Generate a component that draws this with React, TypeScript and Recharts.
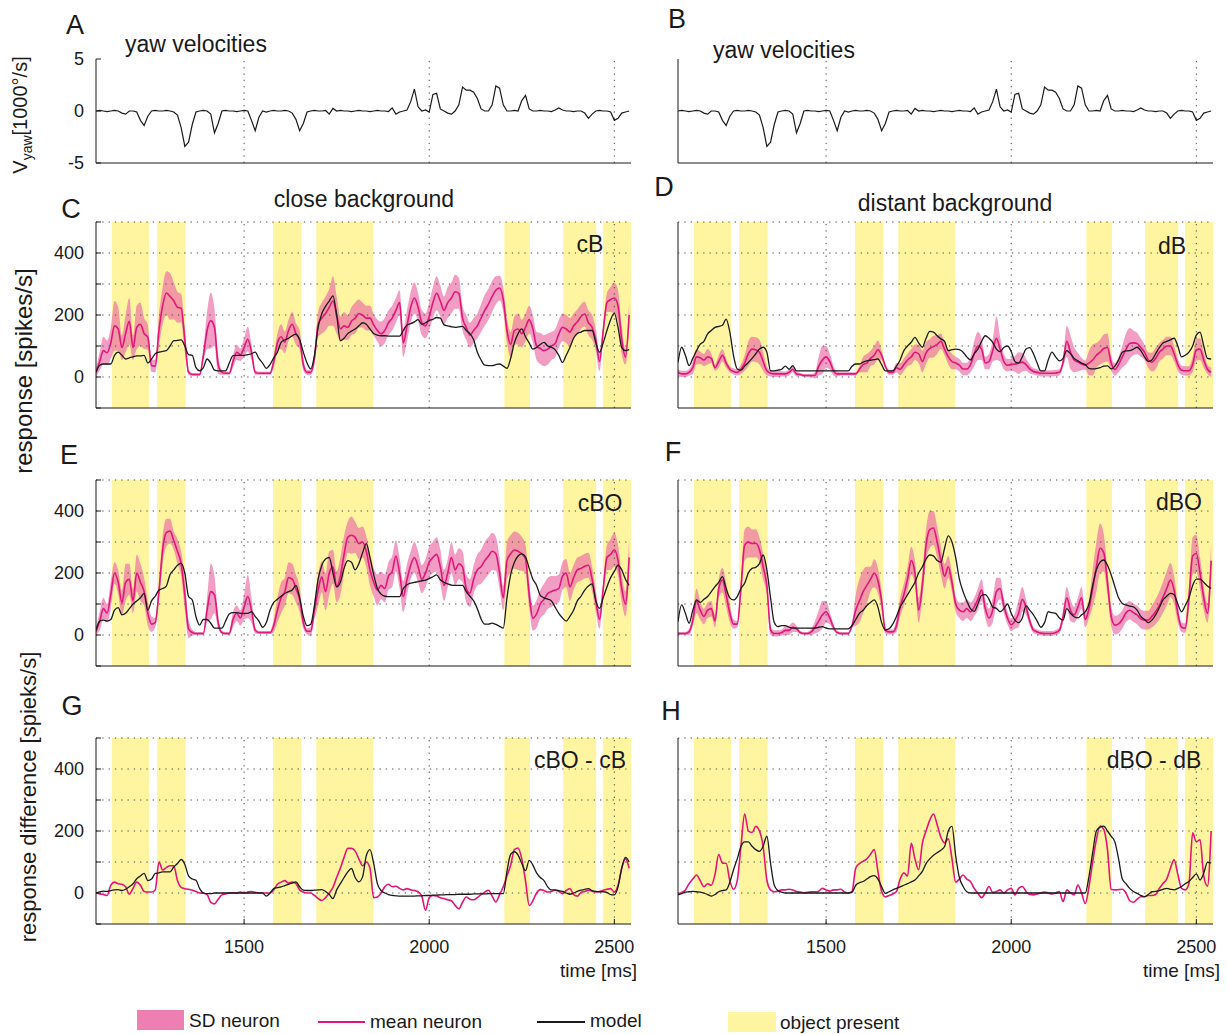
import React from "react";
import {
  ComposedChart,
  Area,
  Line,
  XAxis,
  YAxis,
  ReferenceArea,
  ReferenceLine,
} from "recharts";

const FONT = '"Liberation Sans", Arial, Helvetica, sans-serif';
const INK = "#1a1a1a";
const GRID = "#4a4a4a";
const PINK_LINE = "#e3157a";
const PINK_BAND = "#ea68a5";
const YELLOW = "#fff5a0";

// time base in ms, one sample every 10 ms
const time = [
  1100, 1110, 1120, 1130, 1140, 1150, 1160, 1170, 1180, 1190,
  1200, 1210, 1220, 1230, 1240, 1250, 1260, 1270, 1280, 1290,
  1300, 1310, 1320, 1330, 1340, 1350, 1360, 1370, 1380, 1390,
  1400, 1410, 1420, 1430, 1440, 1450, 1460, 1470, 1480, 1490,
  1500, 1510, 1520, 1530, 1540, 1550, 1560, 1570, 1580, 1590,
  1600, 1610, 1620, 1630, 1640, 1650, 1660, 1670, 1680, 1690,
  1700, 1710, 1720, 1730, 1740, 1750, 1760, 1770, 1780, 1790,
  1800, 1810, 1820, 1830, 1840, 1850, 1860, 1870, 1880, 1890,
  1900, 1910, 1920, 1930, 1940, 1950, 1960, 1970, 1980, 1990,
  2000, 2010, 2020, 2030, 2040, 2050, 2060, 2070, 2080, 2090,
  2100, 2110, 2120, 2130, 2140, 2150, 2160, 2170, 2180, 2190,
  2200, 2210, 2220, 2230, 2240, 2250, 2260, 2270, 2280, 2290,
  2300, 2310, 2320, 2330, 2340, 2350, 2360, 2370, 2380, 2390,
  2400, 2410, 2420, 2430, 2440, 2450, 2460, 2470, 2480, 2490,
  2500, 2510, 2520, 2530, 2540,
];
const timeTicks = [1500, 2000, 2500];
const timeDomain: [number, number] = [1100, 2545];

// periods in which the object is visible (ms)
const objectOn = [1143, 1265, 1578, 1695, 2203, 2362, 2469];
const objectOff = [1243, 1342, 1655, 1849, 2272, 2451, 2545];

const yawTicks = [-5, 0, 5];
const respTicks = [-100, 0, 100, 200, 300, 400, 500];
const respGrid = [0, 100, 200, 300, 400, 500];
const respLabels = [0, 200, 400];

// yaw velocity [1000 deg/s]
const yaw = [
  0, 0.05, 0, -0.05, 0, 0.05, 0, -0.2, -0.3, 0,
  0, -0.1, -0.9, -1.4, -0.5, 0, 0.05, 0, 0, 0.05,
  0, -0.1, -0.4, -1.6, -3.4, -3.0, -1.3, -0.1, 0, 0.05,
  0, -0.3, -2.1, -1.2, 0, 0.05, 0, 0, -0.05, 0,
  0.05, 0, -0.9, -1.9, -0.6, 0, -0.1, 0, 0.05, 0,
  0, 0.05, 0, -0.2, -0.8, -1.9, -1.2, -0.1, 0, 0.05,
  0, 0, 0.05, -0.3, 0.25, 0, 0.05, 0, 0, -0.05,
  0, 0.05, 0, 0, -0.05, 0, 0.05, 0, 0, -0.05,
  0.3, -0.3, -0.1, 0, 0.1, 0.9, 2.1, 0.4, 0, 0.1,
  -0.1, 1.6, 1.7, 0.2, 0, -0.2, -0.3, 0, 0.6, 2.3,
  2.0, 2.0, 1.8, 1.2, 0.2, 0, 0, 0.6, 2.4, 2.2,
  0.6, 0, 0, 0.05, 0, 1.0, 1.5, 0.2, 0, 0,
  0.05, 0, 0, -0.05, 0.1, 0.3, 0.1, 0, 0, -0.05,
  0, 0, -0.2, -0.7, -0.3, 0, 0.05, 0, 0, -0.1,
  -0.9, -0.7, -0.2, -0.1, 0,
];

// close background (cB)
const cbMean = [
  15, 50, 85, 78, 110, 165, 155, 95, 140, 180,
  95, 160, 170, 140, 128, 37, 35, 150, 230, 271,
  260, 246, 225, 222, 120, 15, 8, 8, 8, 70,
  150, 182, 160, 40, 15, 12, 12, 50, 80, 72,
  95, 122, 80, 15, 12, 12, 12, 12, 50, 110,
  130, 112, 150, 170, 139, 120, 40, 15, 15, 60,
  170, 190, 205, 225, 245, 200, 155, 165, 160, 180,
  190, 205, 200, 190, 190, 168, 150, 139, 150, 175,
  190, 215, 240, 110, 165, 225, 255, 225, 175, 165,
  195, 240, 270, 245, 215, 240, 255, 275, 270, 190,
  160, 135, 150, 165, 190, 215, 235, 260, 280, 287,
  250, 150, 105, 150, 155, 140, 160, 185, 155, 100,
  92, 85, 90, 100, 108, 139, 160, 155, 145, 165,
  178, 195, 203, 175, 160, 120, 50, 150, 240, 250,
  255, 230, 120, 65, 200,
];
const cbSd = [
  15, 30, 45, 40, 50, 80, 70, 40, 60, 75,
  40, 70, 70, 50, 40, 20, 20, 50, 60, 70,
  75, 60, 50, 45, 40, 8, 5, 5, 5, 20,
  60, 90, 60, 30, 8, 5, 5, 20, 25, 20,
  30, 40, 25, 8, 5, 5, 5, 5, 20, 30,
  40, 35, 35, 40, 35, 30, 20, 8, 8, 20,
  40, 50, 55, 60, 80, 60, 40, 45, 40, 45,
  50, 45, 40, 40, 40, 35, 35, 40, 40, 40,
  40, 40, 40, 45, 50, 50, 50, 45, 40, 40,
  45, 50, 55, 50, 45, 50, 50, 55, 50, 40,
  40, 40, 40, 40, 45, 50, 50, 50, 45, 40,
  40, 40, 40, 45, 50, 45, 45, 45, 45, 45,
  50, 50, 50, 45, 45, 45, 45, 45, 45, 40,
  40, 40, 40, 40, 40, 35, 30, 20, 30, 40,
  50, 50, 45, 25, 45,
];
const cbModel = [
  15, 38, 42, 42, 42, 70, 80, 70, 58, 62,
  65, 68, 68, 70, 45, 58, 75, 80, 83, 85,
  100, 117, 118, 120, 100, 72, 70, 30, 20, 30,
  58, 45, 22, 20, 20, 20, 45, 69, 70, 70,
  70, 72, 75, 80, 60, 45, 28, 40, 62, 80,
  112, 120, 125, 133, 138, 120, 80, 45, 26, 70,
  160, 205, 228, 245, 262, 200, 117, 125, 140, 148,
  155, 165, 175, 170, 155, 140, 135, 133, 133, 132,
  132, 132, 132, 150, 168, 172, 178, 185, 170, 175,
  182, 186, 192, 190, 168, 165, 162, 160, 162, 163,
  150, 140, 120, 80, 55, 38, 37, 37, 40, 42,
  35, 28, 60, 110, 140, 155, 130, 110, 90, 95,
  105, 112, 100, 96, 88, 70, 47, 70, 95, 125,
  140, 145, 150, 150, 150, 110, 80, 110, 150, 185,
  205, 160, 95, 85, 88,
];

// distant background (dB)
const dbMean = [
  15, 10, 10, 15, 30, 65, 62, 55, 65, 60,
  30, 50, 70, 45, 25, 18, 15, 25, 45, 75,
  90, 88, 80, 50, 20, 12, 10, 10, 10, 10,
  15, 25, 10, 8, 5, 5, 5, 5, 35, 55,
  65, 50, 20, 10, 10, 10, 10, 10, 10, 25,
  40, 45, 60, 70, 88, 70, 35, 15, 15, 30,
  25, 40, 55, 65, 80, 75, 50, 78, 92, 98,
  105, 115, 90, 65, 50, 45, 38, 26, 26, 40,
  75, 100, 90, 45, 50, 85, 125, 90, 50, 38,
  40, 42, 45, 48, 40, 26, 18, 15, 12, 12,
  12, 12, 13, 15, 47, 115, 80, 55, 48, 42,
  38, 45, 55, 70, 80, 92, 95, 45, 24, 40,
  65, 90, 108, 110, 108, 95, 80, 55, 48, 60,
  80, 90, 100, 100, 75, 40, 22, 20, 20, 40,
  88, 90, 55, 25, 15,
];
const dbSd = [
  10, 10, 10, 10, 20, 25, 20, 20, 25, 15,
  10, 20, 20, 15, 10, 10, 10, 15, 25, 40,
  40, 40, 40, 30, 15, 10, 10, 10, 8, 8,
  10, 10, 8, 5, 5, 5, 5, 10, 30, 45,
  35, 25, 15, 8, 5, 5, 5, 5, 5, 10,
  25, 30, 25, 30, 30, 15, 8, 8, 8, 15,
  20, 20, 20, 25, 25, 30, 35, 35, 30, 35,
  30, 25, 20, 25, 25, 20, 20, 20, 20, 25,
  40, 45, 35, 20, 25, 35, 70, 40, 25, 20,
  20, 25, 35, 30, 20, 15, 10, 10, 10, 10,
  10, 10, 10, 10, 15, 50, 55, 40, 30, 20,
  15, 40, 50, 40, 40, 45, 45, 25, 20, 25,
  35, 50, 50, 40, 35, 30, 25, 25, 30, 35,
  30, 30, 30, 30, 25, 20, 15, 15, 15, 25,
  35, 35, 25, 15, 15,
];
const dbModel = [
  47, 96, 70, 37, 60, 85, 106, 115, 139, 150,
  160, 163, 167, 187, 145, 69, 26, 22, 35, 47,
  60, 75, 90, 96, 80, 20, 20, 22, 25, 35,
  25, 37, 20, 20, 20, 20, 20, 20, 20, 20,
  20, 20, 20, 20, 20, 20, 20, 35, 42, 42,
  48, 52, 54, 56, 58, 40, 20, 20, 20, 35,
  55, 85, 100, 112, 128, 110, 96, 125, 147, 145,
  133, 123, 115, 85, 88, 90, 88, 80, 65, 55,
  75, 90, 115, 133, 125, 112, 90, 82, 95, 100,
  82, 50, 45, 65, 90, 95, 75, 45, 20, 20,
  55, 80, 65, 52, 60, 85, 75, 60, 52, 45,
  40, 28, 26, 27, 30, 35, 36, 26, 35, 55,
  80, 84, 85, 90, 96, 85, 65, 50, 55, 75,
  95, 110, 115, 120, 125, 100, 65, 70, 80, 100,
  135, 145, 100, 60, 58,
];

// close background with object (cBO)
const cboMean = [
  11, 45, 85, 70, 130, 200, 170, 105, 170, 180,
  110, 200, 170, 140, 70, 35, 40, 140, 275, 330,
  335, 305, 270, 230, 130, 20, 8, 5, 5, 5,
  80, 140, 130, 40, 8, 5, 5, 50, 70, 55,
  90, 124, 80, 15, 8, 8, 8, 8, 30, 80,
  120, 140, 185, 180, 150, 115, 40, 12, 12, 80,
  145, 188, 140, 200, 220, 156, 190, 260, 315, 322,
  315, 295, 300, 270, 210, 170, 145, 160, 150, 190,
  205, 255, 200, 124, 180, 225, 250, 220, 180, 200,
  235, 250, 260, 220, 160, 200, 250, 210, 230, 220,
  150, 135, 180, 210, 220, 240, 255, 270, 262, 200,
  120, 240, 262, 274, 270, 262, 245, 130, 54, 68,
  100, 115, 134, 140, 145, 150, 190, 200, 155, 185,
  210, 215, 222, 225, 180, 110, 50, 150, 250, 260,
  275, 240, 150, 100, 250,
];
const cboSd = [
  10, 30, 35, 30, 45, 35, 40, 40, 60, 50,
  40, 60, 60, 45, 40, 25, 15, 30, 45, 45,
  40, 30, 40, 40, 50, 30, 10, 5, 5, 5,
  40, 90, 60, 20, 5, 5, 5, 25, 25, 25,
  40, 70, 40, 10, 5, 5, 5, 5, 20, 40,
  50, 45, 50, 50, 45, 40, 20, 10, 15, 30,
  50, 50, 60, 70, 55, 50, 60, 60, 50, 60,
  50, 50, 50, 50, 50, 45, 50, 45, 45, 45,
  50, 50, 50, 50, 50, 45, 50, 50, 45, 45,
  50, 50, 55, 55, 50, 45, 50, 50, 50, 50,
  45, 45, 45, 50, 55, 60, 60, 60, 55, 50,
  40, 60, 60, 60, 60, 55, 45, 40, 40, 45,
  45, 50, 50, 50, 45, 45, 45, 45, 45, 40,
  40, 40, 40, 40, 40, 35, 30, 20, 40, 50,
  55, 50, 45, 40, 60,
];
const cboModel = [
  16, 45, 48, 45, 50, 80, 88, 65, 70, 85,
  100, 110, 120, 134, 80, 110, 125, 145, 150, 158,
  195, 210, 225, 231, 199, 124, 113, 59, 32, 50,
  50, 38, 22, 22, 22, 45, 68, 72, 72, 70,
  70, 70, 75, 60, 45, 25, 40, 80, 105, 115,
  125, 134, 140, 145, 160, 120, 60, 30, 35, 95,
  180, 225, 245, 250, 200, 155, 170, 215, 240, 235,
  210, 230, 265, 295, 250, 195, 150, 132, 125, 124,
  124, 124, 124, 150, 162, 167, 170, 172, 175, 177,
  182, 188, 194, 178, 170, 165, 161, 160, 160, 160,
  140, 125, 110, 85, 52, 35, 35, 38, 34, 28,
  22, 120, 195, 235, 255, 262, 252, 215, 180, 160,
  128, 120, 116, 110, 90, 70, 55, 45, 60, 80,
  110, 125, 145, 158, 165, 110, 86, 120, 155, 185,
  205, 225, 210, 180, 160,
];

// distant background with object (dBO)
const dboMean = [
  5, 5, 5, 10, 48, 110, 80, 60, 80, 85,
  45, 150, 177, 130, 70, 35, 35, 150, 290, 300,
  295, 296, 275, 220, 160, 16, 5, 5, 8, 15,
  15, 25, 20, 8, 5, 5, 10, 25, 45, 65,
  75, 55, 25, 8, 5, 5, 5, 30, 80, 110,
  140, 160, 180, 199, 175, 110, 15, 10, 10, 30,
  90, 130, 180, 240, 200, 80, 160, 290, 340, 345,
  300, 240, 190, 220, 170, 100, 80, 75, 85, 75,
  90, 115, 145, 85, 55, 80, 140, 150, 95, 55,
  33, 45, 70, 115, 90, 45, 16, 10, 6, 5,
  5, 5, 8, 15, 59, 120, 80, 65, 90, 120,
  50, 85, 150, 220, 280, 265, 170, 60, 32, 36,
  50, 72, 80, 72, 65, 52, 48, 48, 60, 75,
  95, 122, 150, 177, 145, 70, 25, 22, 120, 255,
  263, 200, 120, 70, 240,
];
const dboSd = [
  5, 5, 5, 10, 20, 40, 30, 25, 25, 25,
  20, 30, 40, 40, 30, 15, 10, 30, 50, 50,
  45, 45, 40, 40, 30, 15, 10, 10, 10, 15,
  15, 15, 10, 5, 5, 5, 10, 20, 35, 45,
  35, 20, 10, 5, 5, 5, 5, 5, 50, 70,
  70, 60, 40, 45, 40, 30, 10, 8, 8, 20,
  30, 35, 40, 45, 40, 40, 40, 50, 60, 55,
  50, 45, 40, 35, 30, 25, 25, 30, 30, 30,
  30, 35, 35, 30, 30, 40, 45, 35, 25, 20,
  20, 25, 45, 40, 25, 15, 10, 8, 8, 8,
  8, 8, 8, 10, 20, 35, 35, 25, 30, 35,
  25, 30, 60, 80, 80, 60, 40, 30, 30, 30,
  30, 30, 30, 30, 30, 30, 30, 30, 35, 40,
  45, 50, 55, 55, 45, 30, 15, 15, 40, 60,
  60, 50, 40, 30, 60,
];
const dboModel = [
  43, 97, 70, 38, 80, 113, 105, 115, 124, 140,
  156, 170, 188, 150, 120, 113, 124, 150, 167, 200,
  215, 218, 230, 258, 210, 120, 40, 27, 30, 30,
  25, 22, 22, 22, 22, 22, 22, 22, 25, 27,
  22, 20, 20, 20, 20, 20, 20, 30, 50, 70,
  80, 95, 105, 113, 90, 40, 16, 20, 35, 60,
  90, 110, 130, 150, 170, 200, 220, 245, 258, 255,
  240, 235, 280, 320, 300, 250, 180, 140, 110, 85,
  76, 100, 128, 130, 115, 90, 86, 75, 85, 100,
  70, 48, 40, 55, 95, 80, 65, 45, 25, 40,
  75, 72, 70, 55, 48, 85, 70, 59, 55, 65,
  75, 100, 160, 210, 235, 242, 225, 194, 156, 120,
  102, 97, 93, 91, 80, 60, 50, 40, 48, 65,
  88, 113, 125, 134, 130, 100, 75, 95, 120, 160,
  180, 180, 170, 158, 150,
];

// response differences cBO - cB
const cDiffMean = [
  0, -3, -5, -8, 25, 35, 30, 28, 20, -4,
  15, 35, 25, 5, 3, 3, 10, 100, 74, 82,
  88, 88, 40, 18, 14, 12, 9, 5, 0, -1,
  -5, -30, -35, -20, -6, -3, 0, 0, 0, 3,
  0, 3, 5, 2, 0, 0, 0, 0, 10, 28,
  35, 40, 32, 35, 30, 10, 3, 0, 0, -8,
  -18, -24, -15, 0, 18, 50, 80, 115, 144, 144,
  135, 110, 88, 100, 80, -15, -13, 0, 20, 28,
  20, 22, 15, 10, 14, 10, 8, 4, -10, -56,
  -15, -8, -10, -15, -18, -22, -25, -40, -51, -30,
  -13, -20, -22, -15, -5, 3, 9, -10, -29, -5,
  20, 55, 90, 140, 145, 110, 40, -40, -25, 0,
  11, 8, 3, 5, 9, 5, -2, 8, 14, -5,
  -10, 2, 5, 9, 6, 3, 5, 9, 12, 14,
  3, 25, 80, 111, 80,
];
const cDiffModel = [
  0, 4, 6, 5, 8, 10, 11, 8, 12, 20,
  30, 46, 55, 63, 40, 45, 63, 65, 68, 68,
  68, 84, 95, 108, 92, 55, 45, 41, 14, 0,
  -2, -2, 0, 0, 0, 0, 0, 0, 0, 0,
  0, 0, 0, 0, 0, 0, -10, 0, 14, 17,
  20, 24, 28, 32, 36, 20, 9, 8, 8, 9,
  10, 11, 5, -5, -18, 10, 30, 50, 68, 79,
  50, 36, 52, 120, 140, 95, 30, 8, 0, -5,
  -8, -9, -10, -10, -10, -10, -10, -9, -9, -8,
  -8, -7, -7, -6, -6, -5, -5, -5, -4, -4,
  -4, -4, -3, -3, -3, -3, -2, -2, -2, -2,
  -2, 70, 125, 133, 122, 95, 72, 105, 90, 65,
  50, 40, 20, 10, 10, 8, 5, 0, -4, 0,
  5, 9, 12, 14, 8, 5, 4, 4, 2, -5,
  -6, 20, 80, 115, 100,
];

// response differences dBO - dB
const dDiffMean = [
  -3, 2, 10, 30, 45, 58, 40, 20, 30, 25,
  60, 124, 96, 96, 40, 12, 40, 150, 255, 200,
  195, 215, 200, 150, 42, 10, 4, 6, 10, 10,
  12, 10, 5, 3, 1, 2, 4, 4, 6, 15,
  10, 6, 10, 10, 12, 3, 0, 5, 80, 95,
  102, 110, 125, 140, 70, 5, -12, -8, -3, 5,
  45, 65, 55, 160, 110, 75, 160, 200, 235, 255,
  220, 180, 162, 175, 110, 35, 45, 58, 45, 37,
  15, -1, -15, 0, 21, 2, 5, 10, 0, 10,
  15, -6, 15, 21, 5, -5, -6, -3, 0, 3,
  0, -3, 0, 5, -28, 10, 0, -6, 26, 0,
  -34, 20, 100, 172, 216, 205, 140, 12, 10, 11,
  12, 0, -25, -30, -20, -12, -12, -8, -8, -5,
  15, 31, 45, 80, 107, 60, 15, 10, 30, 194,
  165, 172, 55, 22, 200,
];
const dDiffModel = [
  -6, -2, 3, 4, 5, 4, 3, 0, -5, -10,
  -5, 4, 8, 10, 35, 75, 110, 150, 165, 165,
  151, 140, 134, 151, 183, 96, 25, 8, 3, 0,
  0, 0, 0, 0, 0, 0, 0, 0, 0, 0,
  0, 0, 0, 0, 0, 0, 0, 2, 25, 33,
  37, 45, 53, 56, 45, 20, -1, 4, 10, 15,
  20, 25, 30, 36, 42, 55, 70, 95, 110, 122,
  130, 138, 150, 200, 215, 120, 50, 21, 4, 0,
  0, 0, 0, 0, 0, 0, 0, 0, 0, 0,
  0, 0, 0, 0, 0, 0, 0, 0, 0, 0,
  0, 0, 0, 0, 0, 0, 0, 0, 0, 0,
  0, 53, 130, 200, 212, 216, 200, 183, 165, 110,
  45, 30, 15, 5, -1, -8, -12, -5, 4, 5,
  8, 12, 15, 12, 10, 15, 21, 30, 37, 50,
  62, 42, 64, 99, 97,
];

const yawRows = time.map((t, i) => ({ t, yaw: yaw[i] }));
const respRows = (mean: number[], model: number[], sd?: number[]) =>
  time.map((t, i) => ({
    t,
    mean: mean[i],
    model: model[i],
    band: sd ? [mean[i] - sd[i], mean[i] + sd[i]] : undefined,
  }));

const AXIS_W = 60;
const PLOT_W = 535;
const X_AXIS_H = 42;
const COL_X = [96, 678];
const tickStyle = { fontSize: 18, fill: INK, fontFamily: FONT };

type PanelProps = {
  x: number;
  y: number;
  h: number;
  data: any[];
  isYaw?: boolean;
  showY?: boolean;
  showX?: boolean;
};

function Panel({ x, y, h, data, isYaw, showY, showX }: PanelProps) {
  const hasBand = !isYaw && data[0].band !== undefined;
  return (
    <div style={{ position: "absolute", left: x - AXIS_W, top: y - 10 }}>
      <ComposedChart
        width={AXIS_W + PLOT_W + 12}
        height={h + 10 + X_AXIS_H}
        data={data}
        margin={{ top: 10, right: 12, bottom: 0, left: 0 }}
      >
        {!isYaw &&
          objectOn.map((on, i) => (
            <ReferenceArea
              key={`obj-${on}`}
              x1={on}
              x2={objectOff[i]}
              fill={YELLOW}
              fillOpacity={1}
              stroke="none"
              ifOverflow="hidden"
            />
          ))}
        {/* dotted grid, drawn over the object bands */}
        {timeTicks.map((t) => (
          <ReferenceLine key={`gx-${t}`} x={t} stroke={GRID} strokeDasharray="1.3 5" />
        ))}
        {!isYaw &&
          respGrid.map((v) => (
            <ReferenceLine key={`gy-${v}`} y={v} stroke={GRID} strokeDasharray="1.3 5" />
          ))}
        <XAxis
          type="number"
          dataKey="t"
          domain={timeDomain}
          ticks={timeTicks}
          interval={0}
          allowDataOverflow
          height={X_AXIS_H}
          stroke={INK}
          tickSize={-5}
          tickMargin={21}
          tick={showX ? tickStyle : false}
        />
        <YAxis
          type="number"
          domain={isYaw ? [-5, 5] : [-100, 500]}
          ticks={isYaw ? yawTicks : respTicks}
          interval={0}
          allowDataOverflow
          width={AXIS_W}
          stroke={INK}
          tickSize={-5}
          tickMargin={17}
          tick={showY ? tickStyle : false}
          tickFormatter={(v: number) => (isYaw || respLabels.includes(v) ? String(v) : "")}
        />
        {hasBand && (
          <Area
            type="monotone"
            dataKey="band"
            stroke="none"
            fill={PINK_BAND}
            fillOpacity={0.65}
            isAnimationActive={false}
          />
        )}
        {isYaw ? (
          <Line type="linear" dataKey="yaw" stroke={INK} strokeWidth={1.2} dot={false} isAnimationActive={false} />
        ) : (
          <Line type="monotone" dataKey="mean" stroke={PINK_LINE} strokeWidth={1.6} dot={false} isAnimationActive={false} />
        )}
        {!isYaw && (
          <Line type="monotone" dataKey="model" stroke={INK} strokeWidth={1.3} dot={false} isAnimationActive={false} />
        )}
      </ComposedChart>
    </div>
  );
}

type TextProps = {
  x: number;
  y: number;
  size: number;
  align?: "left" | "center" | "right";
  rotate?: boolean;
  children: React.ReactNode;
};

function Txt({ x, y, size, align = "center", rotate, children }: TextProps) {
  const shift = align === "left" ? "0%" : align === "right" ? "-100%" : "-50%";
  return (
    <div
      style={{
        position: "absolute",
        left: x,
        top: y,
        fontSize: size,
        fontFamily: FONT,
        color: INK,
        whiteSpace: "nowrap",
        lineHeight: 1,
        transform: rotate
          ? "translate(-50%, -50%) rotate(-90deg)"
          : `translate(${shift}, -50%)`,
      }}
    >
      {children}
    </div>
  );
}

const PANEL_TOP = [59, 222, 480, 738];
const PANEL_H = [104, 186, 186, 186];

export default function App() {
  const [L, R] = COL_X;
  return (
    <div style={{ position: "absolute", left: 0, top: 0, width: 1228, height: 1034, background: "#fff" }}>
      <Panel x={L} y={PANEL_TOP[0]} h={PANEL_H[0]} data={yawRows} isYaw showY />
      <Panel x={R} y={PANEL_TOP[0]} h={PANEL_H[0]} data={yawRows} isYaw />
      <Panel x={L} y={PANEL_TOP[1]} h={PANEL_H[1]} data={respRows(cbMean, cbModel, cbSd)} showY />
      <Panel x={R} y={PANEL_TOP[1]} h={PANEL_H[1]} data={respRows(dbMean, dbModel, dbSd)} />
      <Panel x={L} y={PANEL_TOP[2]} h={PANEL_H[2]} data={respRows(cboMean, cboModel, cboSd)} showY />
      <Panel x={R} y={PANEL_TOP[2]} h={PANEL_H[2]} data={respRows(dboMean, dboModel, dboSd)} />
      <Panel x={L} y={PANEL_TOP[3]} h={PANEL_H[3]} data={respRows(cDiffMean, cDiffModel)} showY showX />
      <Panel x={R} y={PANEL_TOP[3]} h={PANEL_H[3]} data={respRows(dDiffMean, dDiffModel)} showX />

      {/* panel letters */}
      <Txt x={75} y={25} size={27}>A</Txt>
      <Txt x={677} y={19} size={27}>B</Txt>
      <Txt x={71} y={209} size={27}>C</Txt>
      <Txt x={664} y={187} size={27}>D</Txt>
      <Txt x={69} y={455} size={27}>E</Txt>
      <Txt x={673} y={452} size={27}>F</Txt>
      <Txt x={72} y={706} size={27}>G</Txt>
      <Txt x={671} y={711} size={27}>H</Txt>

      {/* titles */}
      <Txt x={125} y={44} size={23} align="left">yaw velocities</Txt>
      <Txt x={713} y={50} size={23} align="left">yaw velocities</Txt>
      <Txt x={364} y={199} size={23}>close background</Txt>
      <Txt x={955} y={203} size={23}>distant background</Txt>

      {/* condition tags */}
      <Txt x={590} y={244} size={23}>cB</Txt>
      <Txt x={1172} y={246} size={23}>dB</Txt>
      <Txt x={600} y={503} size={23}>cBO</Txt>
      <Txt x={1179} y={502} size={23}>dBO</Txt>
      <Txt x={580} y={760} size={23}>cBO - cB</Txt>
      <Txt x={1154} y={760} size={23}>dBO - dB</Txt>

      {/* axis titles */}
      <Txt x={22} y={115} size={20} rotate>
        V<sub style={{ fontSize: 14 }}>yaw</sub>[1000°/s]
      </Txt>
      <Txt x={24} y={371} size={24} rotate>response [spikes/s]</Txt>
      <Txt x={29} y={797} size={22} rotate>response difference [spieks/s]</Txt>
      <Txt x={637} y={970} size={19} align="right">time [ms]</Txt>
      <Txt x={1220} y={970} size={19} align="right">time [ms]</Txt>

      {/* legend */}
      <div style={{ position: "absolute", left: 137, top: 1010, width: 47, height: 20, background: PINK_BAND, opacity: 0.85 }} />
      <Txt x={189} y={1020} size={19} align="left">SD neuron</Txt>
      <div style={{ position: "absolute", left: 318, top: 1021, width: 47, height: 2, background: PINK_LINE }} />
      <Txt x={370} y={1021} size={19} align="left">mean neuron</Txt>
      <div style={{ position: "absolute", left: 537, top: 1021, width: 48, height: 2, background: INK }} />
      <Txt x={590} y={1020} size={19} align="left">model</Txt>
      <div style={{ position: "absolute", left: 728, top: 1012, width: 48, height: 20, background: YELLOW }} />
      <Txt x={780} y={1022} size={19} align="left">object present</Txt>
    </div>
  );
}
